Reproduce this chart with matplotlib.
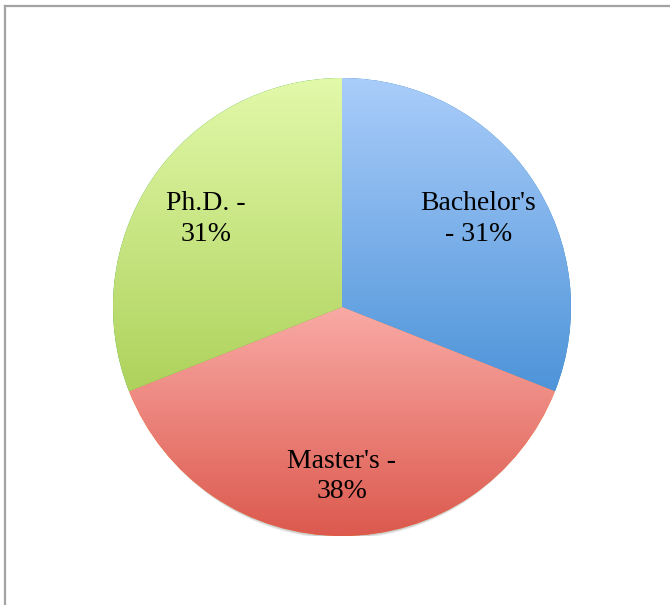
import numpy as np
import matplotlib
matplotlib.use("Agg")
import matplotlib.pyplot as plt
from matplotlib.colors import LinearSegmentedColormap
from matplotlib.lines import Line2D
from matplotlib.patches import Circle

# dados
degrees = ["Bachelor's", "Master's", "Ph.D."]
shares = [31, 38, 31]
label_texts = ["Bachelor's\n- 31%", "Master's -\n38%", "Ph.D. -\n31%"]
top_colors = ["#aacdfa", "#f9aaa5", "#e2f9aa"]
bottom_colors = ["#4e94d9", "#dc594e", "#aed25c"]

plt.rcParams['font.family'] = ['Liberation Serif', 'DejaVu Serif']

fig = plt.figure(figsize=(6.7, 6.05), dpi=100)

# moldura cinza (apenas esquerda e topo visiveis)
fig.add_artist(Line2D([5 / 670, 5 / 670], [0, 1 - 6 / 605], color="#a3a3a3", lw=1.6))
fig.add_artist(Line2D([5 / 670, 1], [1 - 6 / 605, 1 - 6 / 605], color="#a3a3a3", lw=1.6))

cx, cy, r = 342, 307, 229
ax = fig.add_axes([(cx - r) / 670, (605 - cy - r) / 605, 2 * r / 670, 2 * r / 605])

# sombra leve so embaixo
for k in range(1, 8):
    ax.add_patch(Circle((0, -0.006 * k), 1.0 - 0.004 * k, color="black",
                        alpha=0.035, lw=0, zorder=0))

wedges, _ = ax.pie(shares, startangle=90, counterclock=False, radius=1,
                   wedgeprops=dict(linewidth=0, zorder=1))

for w, c_top, c_bot, txt in zip(wedges, top_colors, bottom_colors, label_texts):
    bb = w.get_path().get_extents()
    cmap = LinearSegmentedColormap.from_list("g", [c_bot, c_top])
    grad = np.linspace(0, 1, 256).reshape(-1, 1)
    im = ax.imshow(grad, cmap=cmap, origin="lower", aspect="auto",
                   extent=[bb.x0, bb.x1, bb.y0, bb.y1], zorder=2,
                   interpolation="bilinear")
    im.set_clip_path(w)
    mid = np.deg2rad((w.theta1 + w.theta2) / 2)
    ax.text(0.72 * np.cos(mid), 0.72 * np.sin(mid) - 0.02, txt, ha="center",
            va="center", fontsize=20, color="black", linespacing=1.3, zorder=3)

ax.set_xlim(-1, 1)
ax.set_ylim(-1, 1)
ax.axis("off")

fig.savefig("out.png", dpi=100)
